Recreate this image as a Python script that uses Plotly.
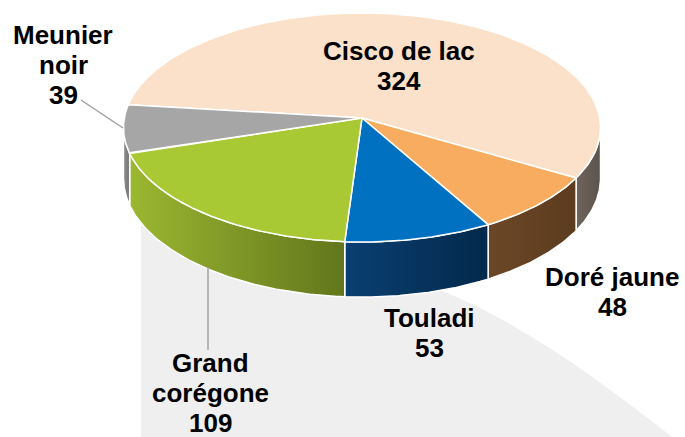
import numpy as np
import plotly.graph_objects as go

# ---------------- data ----------------
species = ["Cisco de lac", "Doré jaune", "Touladi", "Grand corégone", "Meunier noir"]
counts = [324, 48, 53, 109, 39]
label_lines = [["Cisco de lac"], ["Doré jaune"], ["Touladi"], ["Grand", "corégone"], ["Meunier", "noir"]]

# ---------------- styles ----------------
top_colors = ["#FCE1CA", "#F7AC5F", "#0070C0", "#A8C934", "#A6A6A6"]
side_colors = [["#6E645C", "#5C534C"], ["#6B4727", "#5C3B1E"], ["#0A3F72", "#03294B"],
               ["#9CB731", "#62761C"], ["#8E8E8E", "#737373"]]

W, H = 685, 437
# projected pie geometry (simple perspective): centre, radii, perspective factor, depth
CX, CY, RX, RY, K, DEPTH = 362, 118, 237.7, 113.7, 0.083, 50.5
START = 173.2

# label layout: (x centre, y of first line centre)
label_pos = [(399, 51), (612, 277), (429, 318), (210, 363), (63, 35)]
LINE_PITCH = 30
FONT = dict(family="Liberation Sans, Arial, sans-serif", size=26, color="#000000")


def proj(t_deg, drop=0.0):
    t = np.radians(t_deg)
    d = 1.0 + K * np.sin(t)
    return CX + RX * np.cos(t) / d, CY - RY * np.sin(t) / d + drop / d


fig = go.Figure()

total = float(sum(counts))
angles = []
a = START
for v in counts:
    b = a - 360.0 * v / total
    angles.append((a, b))
    a = b

# visible part of the side wall lies between the two silhouette angles
sil = np.degrees(np.arcsin(K))
for (a, b), cols in zip(angles, side_colors):
    hi = min(a, -sil)
    lo = max(b, -180.0 + sil)
    if hi <= lo:
        continue
    ts = np.linspace(hi, lo, 80)
    xt, yt = proj(ts)
    xb, yb = proj(ts[::-1], DEPTH)
    xs = np.concatenate([xt, xb, xt[:1]])
    ys = np.concatenate([yt, yb, yt[:1]])
    fig.add_trace(go.Scatter(
        x=xs, y=ys, mode="lines", fill="toself",
        fillgradient=dict(type="horizontal", colorscale=[[0, cols[0]], [1, cols[1]]]),
        line=dict(color="white", width=1.5), hoverinfo="skip", showlegend=False))

# top faces
for (a, b), col, name in zip(angles, top_colors, species):
    ts = np.linspace(a, b, 160)
    xe, ye = proj(ts)
    xs = np.concatenate([[CX], xe, [CX]])
    ys = np.concatenate([[CY], ye, [CY]])
    fig.add_trace(go.Scatter(
        x=xs, y=ys, mode="lines", fill="toself", fillcolor=col,
        line=dict(color="white", width=1.5), name=name,
        hoverinfo="skip", showlegend=False))

# leader lines
fig.add_trace(go.Scatter(x=[81, 123], y=[100, 128], mode="lines",
                         line=dict(color="#A0A0A0", width=1.5), hoverinfo="skip", showlegend=False))
fig.add_trace(go.Scatter(x=[208, 208], y=[267, 350], mode="lines",
                         line=dict(color="#A0A0A0", width=1.5), hoverinfo="skip", showlegend=False))

# labels
for lines, val, (lx, ly) in zip(label_lines, counts, label_pos):
    for k, txt in enumerate(lines + [str(val)]):
        fig.add_annotation(x=lx, y=ly + k * LINE_PITCH, text="<b>%s</b>" % txt,
                           showarrow=False, xanchor="center", yanchor="middle", font=FONT)

# soft grey backdrop below the pie
fig.add_shape(type="path", layer="below", xref="x", yref="y",
              path="M 141 200 L 141 437 L 672 437 C 600 380 520 322 440 290 L 400 240 Z",
              fillcolor="#EFEFEF", line=dict(width=0))

fig.update_layout(
    width=W, height=H, margin=dict(l=0, r=0, t=0, b=0),
    paper_bgcolor="white", plot_bgcolor="white",
    xaxis=dict(range=[0, W], visible=False, fixedrange=True),
    yaxis=dict(range=[H, 0], visible=False, fixedrange=True),
)

fig.write_html("out.html", config={"displayModeBar": False},
               post_script="document.body.style.margin='0px';document.body.style.overflow='hidden';")
